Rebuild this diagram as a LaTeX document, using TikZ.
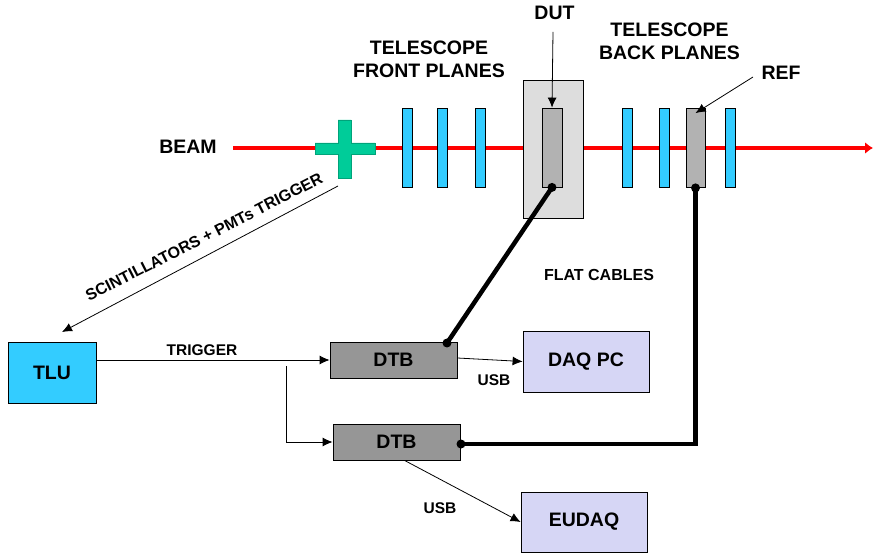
\documentclass[tikz,border=0pt]{standalone}
\usepackage{fontspec}
\setmainfont{Liberation Sans}
\usetikzlibrary{arrows.meta}
\tikzset{>=latex}
\definecolor{beamred}{RGB}{255,0,0}
\definecolor{planeblue}{RGB}{51,204,255}
\definecolor{scintgreen}{RGB}{0,204,153}
\definecolor{sensorgray}{RGB}{178,178,178}
\definecolor{boxgray}{RGB}{221,221,221}
\definecolor{dtbgray}{RGB}{150,150,150}
\definecolor{pcviolet}{RGB}{214,214,245}
\tikzset{
    plane/.style = {draw, fill = planeblue, line width = 0.8pt, inner sep = 0pt,
                    minimum width = 10, minimum height = 79},
    sensor/.style = {plane, fill = sensorgray, minimum width = 20},
    board/.style = {draw, line width = 0.8pt, font = \fontsize{19.5}{23}\selectfont\bfseries},
    lbl/.style = {font = \fontsize{19.5}{23}\selectfont\bfseries, align = center, inner sep = 0pt},
    smalllbl/.style = {font = \fontsize{15.5}{18}\selectfont\bfseries, inner sep = 0pt},
    arr/.style = {line width = 0.8pt, -{Latex[length = 10pt, width = 9pt]}},
    cable/.style = {line width = 4.5pt},
}

\begin{document}
\begin{tikzpicture}[x = 1pt, y = -1pt]
            \useasboundingbox (0, 0) rectangle (873, 553);
            % beam line
            \coordinate (beamstart) at (233, 148);
            \coordinate (beamend) at (873, 148);
            \draw[beamred, line width = 4pt, -{Latex[length = 8pt, width = 12pt]}] (beamstart) -- (beamend);
            \node[lbl] (beamlbl) at (188, 147) {BEAM};
            % scintillator cross
            \fill[scintgreen, draw = scintgreen!80!black, line width = 0.6pt]
                (315, 143) -- (338, 143) -- (338, 120) -- (351, 120) -- (351, 143) -- (375, 143)
                -- (375, 154) -- (351, 154) -- (351, 178) -- (338, 178) -- (338, 154) -- (315, 154) -- cycle;
            \coordinate (scintout) at (338, 186);
            % DUT and planes
            \node[draw, fill = boxgray, line width = 0.8pt, minimum width = 60, minimum height = 138] (dutbox) at (553, 149) {};
            \node[sensor] (dut) at (552, 147.5) {};
            \node[sensor, minimum width = 19] (ref) at (695.5, 148) {};
            \foreach \x/\n in {407/f1, 442/f2, 480/f3, 627/b1, 664/b2, 730/b3} {
                \node[plane] (\n) at (\x, 147.5) {};
            }
            \node[lbl] (frontlbl) at (429, 59.5) {TELESCOPE\\FRONT PLANES};
            \node[lbl] (backlbl) at (669.5, 41) {TELESCOPE\\BACK PLANES};
            \node[lbl] (dutlbl) at (554.5, 13) {DUT};
            \node[lbl] (reflbl) at (781, 73) {REF};
            \coordinate (dutarrow) at (553, 32);
            \coordinate (refarrow) at (753, 77);
            \draw[arr] (dutarrow) -- (dut.north);
            \draw[arr] (refarrow) -- ([yshift = -5]ref.north);
            % readout
            \node[board, fill = planeblue, minimum width = 88, minimum height = 61] (tlu) at (52, 372.5) {TLU};
            \node[board, fill = dtbgray, minimum width = 127, minimum height = 36] (dtb1) at (393.5, 360) {DTB};
            \node[board, fill = dtbgray, minimum width = 127, minimum height = 36] (dtb2) at (396.5, 442) {DTB};
            \node[board, fill = pcviolet, minimum width = 126, minimum height = 61] (daqpc) at (586, 361.5) {DAQ PC};
            \node[board, fill = pcviolet, minimum width = 126, minimum height = 60] (eudaq) at (584, 522) {EUDAQ};
            \coordinate (tluin) at (62, 332);
            \coordinate (split) at (286, 366);
            \draw[arr] (scintout) -- (tluin);
            \node[smalllbl, font = \fontsize{16}{19}\selectfont\bfseries, rotate = 27] (scintlbl) at (204, 237) {SCINTILLATORS + PMTs TRIGGER};
            \draw[arr] (tlu.east |- dtb1.west) -- (dtb1.west);
            \draw[arr] (split) |- (dtb2.west);
            \node[smalllbl] (triglbl) at (202, 350) {TRIGGER};
            \draw[arr] ([yshift = 2]dtb1.east) -- (daqpc.west);
            \draw[arr] ([xshift = 8]dtb2.south) -- (eudaq.west);
            \node[smalllbl] (usb1) at (494, 380) {USB};
            \node[smalllbl] (usb2) at (440, 508) {USB};
            % flat cables
            \coordinate (dtb1out) at (447, 343);
            \coordinate (dtb2out) at (461, 444);
            \draw[cable] (dtb1out) -- (dut.south);
            \draw[cable] (dtb2out) -| (ref.south);
            \foreach \p in {dtb1out, dtb2out, dut.south, ref.south} {
                \fill (\p) circle [radius = 4.5];
            }
            \node[smalllbl, font = \fontsize{16}{19}\selectfont\bfseries] (flatlbl) at (599, 275) {FLAT CABLES};
        \end{tikzpicture}
\end{document}
